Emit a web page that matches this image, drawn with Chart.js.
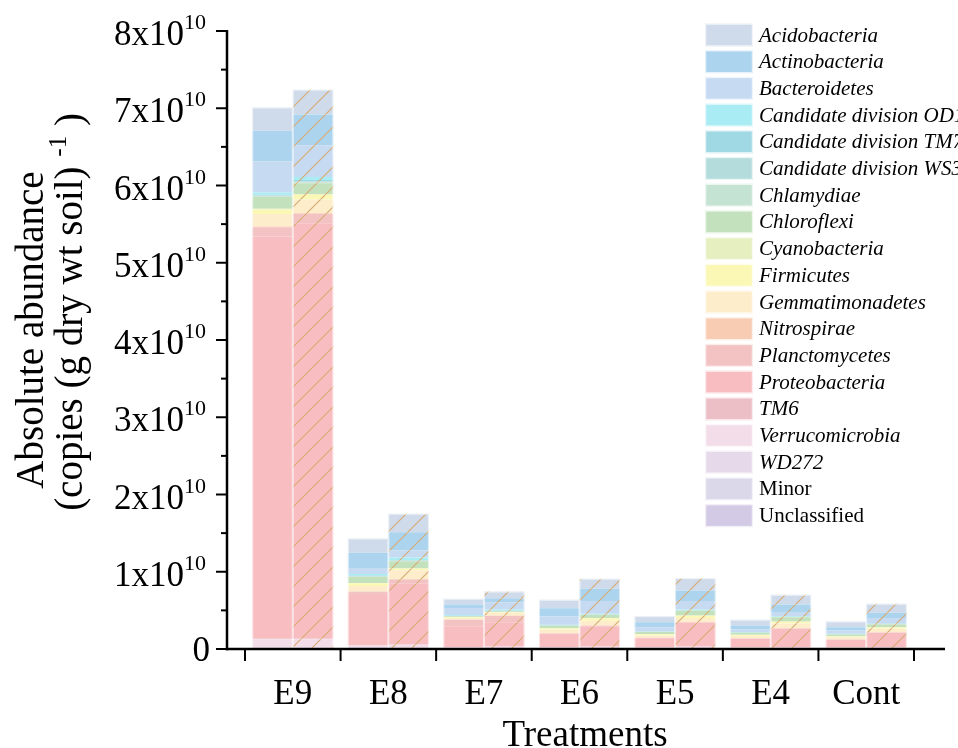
<!DOCTYPE html>
<html>
<head>
<meta charset="utf-8">
<script src="https://cdn.jsdelivr.net/npm/chart.js@4.4.1/dist/chart.umd.min.js"></script>
<style>
  html, body { margin: 0; padding: 0; background: #fff; }
  #wrap { width: 958px; height: 748px; }
</style>
</head>
<body>
<div id="wrap"><canvas id="chart" width="958" height="748"></canvas></div>
<script>
const treatments = ["E9", "E8", "E7", "E6", "E5", "E4", "Cont"];

// legend order = top of the stack first
const phyla = [
  "Acidobacteria", "Actinobacteria", "Bacteroidetes", "Candidate division OD1",
  "Candidate division TM7", "Candidate division WS3", "Chlamydiae", "Chloroflexi",
  "Cyanobacteria", "Firmicutes", "Gemmatimonadetes", "Nitrospirae", "Planctomycetes",
  "Proteobacteria", "TM6", "Verrucomicrobia", "WD272", "Minor", "Unclassified"
];
const plainNames = ["Minor", "Unclassified"];

const colors = [
  "#cfdbea", "#acd4ee", "#c6daf2", "#a9ecf4", "#a0d9e4", "#b4dcdc", "#c5e3d3",
  "#c3e1bd", "#e5efc0", "#fbf7b5", "#fdedcb", "#f8ccb3", "#f3c3c3", "#f8bdc1",
  "#ecbec6", "#f3dde9", "#e6d9ea", "#dbd8ea", "#d3cae5"
];

const yTicks = [0, 1, 2, 3, 4, 5, 6, 7, 8];

// values in 10^10 copies per g dry soil, same order as phyla
const E9_plain = [0.30, 0.40, 0.40, 0.03, 0.01, 0.01, 0.01, 0.15, 0.01, 0.06, 0.16, 0.01, 0.12, 5.205, 0.01, 0.11, 0.005, 0.005, 0.005];
const E9_hatch = [0.32, 0.40, 0.41, 0.04, 0.015, 0.015, 0.01, 0.14, 0.01, 0.06, 0.18, 0.01, 0.12, 5.375, 0.01, 0.11, 0.005, 0.005, 0.005];
const E8_plain = [0.185, 0.195, 0.08, 0.02, 0.005, 0.005, 0.005, 0.08, 0.005, 0.035, 0.07, 0.005, 0.04, 0.65, 0.005, 0.03, 0.005, 0.005, 0.005];
const E8_hatch = [0.24, 0.235, 0.09, 0.035, 0.005, 0.005, 0.005, 0.09, 0.005, 0.02, 0.115, 0.005, 0.05, 0.79, 0.005, 0.04, 0.005, 0.005, 0.005];
const E7_plain = [0.075, 0.045, 0.09, 0.011, 0.002, 0.002, 0.002, 0.01, 0.003, 0.01, 0.02, 0.005, 0.08, 0.272, 0.002, 0.012, 0.003, 0.003, 0.003];
const E7_hatch = [0.086, 0.053, 0.095, 0.014, 0.002, 0.002, 0.002, 0.01, 0.003, 0.005, 0.04, 0.005, 0.08, 0.315, 0.003, 0.02, 0.003, 0.003, 0.003];
const E6_plain = [0.109, 0.108, 0.107, 0.007, 0.002, 0.002, 0.002, 0.03, 0.005, 0.015, 0.045, 0.003, 0.004, 0.175, 0.002, 0.012, 0.003, 0.003, 0.003];
const E6_hatch = [0.129, 0.16, 0.164, 0.01, 0.002, 0.002, 0.002, 0.04, 0.005, 0.03, 0.06, 0.005, 0.005, 0.263, 0.003, 0.02, 0.003, 0.003, 0.003];
const E5_plain = [0.078, 0.064, 0.052, 0.005, 0.002, 0.002, 0.002, 0.025, 0.005, 0.015, 0.03, 0.002, 0.003, 0.117, 0.002, 0.012, 0.003, 0.003, 0.003];
const E5_hatch = [0.16, 0.137, 0.109, 0.011, 0.002, 0.002, 0.002, 0.06, 0.004, 0.03, 0.05, 0.003, 0.005, 0.31, 0.003, 0.02, 0.003, 0.003, 0.003];
const E4_plain = [0.074, 0.052, 0.032, 0.005, 0.002, 0.002, 0.002, 0.025, 0.005, 0.012, 0.03, 0.002, 0.005, 0.11, 0.002, 0.009, 0.003, 0.003, 0.003];
const E4_hatch = [0.125, 0.107, 0.044, 0.008, 0.002, 0.002, 0.002, 0.055, 0.006, 0.02, 0.06, 0.005, 0.005, 0.24, 0.002, 0.009, 0.003, 0.003, 0.003];
const Cont_plain = [0.073, 0.043, 0.043, 0.004, 0.002, 0.002, 0.002, 0.021, 0.003, 0.01, 0.03, 0.003, 0.005, 0.095, 0.002, 0.009, 0.003, 0.003, 0.003];
const Cont_hatch = [0.116, 0.069, 0.074, 0.002, 0.002, 0.002, 0.002, 0.035, 0.005, 0.015, 0.045, 0.004, 0.004, 0.19, 0.002, 0.009, 0.003, 0.003, 0.003];

const plainBars = [E9_plain, E8_plain, E7_plain, E6_plain, E5_plain, E4_plain, Cont_plain];
const hatchBars = [E9_hatch, E8_hatch, E7_hatch, E6_hatch, E5_hatch, E4_hatch, Cont_hatch];

const SERIF = '"Liberation Serif", "Times New Roman", serif';

const make_hatch = (color) => {
  const size = 20;
  const c = document.createElement("canvas");
  c.width = size;
  c.height = size;
  const g = c.getContext("2d");
  g.fillStyle = color;
  g.fillRect(0, 0, size, size);
  g.strokeStyle = "rgba(214,172,118,1)";
  g.lineWidth = 1.2;
  g.beginPath();
  g.moveTo(0, size); g.lineTo(size, 0);
  g.moveTo(-size / 2, size / 2); g.lineTo(size / 2, -size / 2);
  g.moveTo(size / 2, size * 1.5); g.lineTo(size * 1.5, size / 2);
  g.stroke();
  return g.createPattern(c, "repeat");
};

const get_datasets = () => {
  const out = [];
  // chart.js stacks the first dataset at the bottom, so walk the legend backwards
  for (let k = phyla.length - 1; k >= 0; k--) {
    out.push({
      label: phyla[k],
      data: plainBars.map((bar) => bar[k]),
      backgroundColor: colors[k],
      borderWidth: 0,
      stack: "plain",
    });
  }
  for (let k = phyla.length - 1; k >= 0; k--) {
    out.push({
      label: phyla[k],
      data: hatchBars.map((bar) => bar[k]),
      backgroundColor: make_hatch(colors[k]),
      borderWidth: 0,
      stack: "hatch",
    });
  }
  return out;
};

const draw_sup_label = (ctx, parts, x, y, align) => {
  let total = 0;
  parts.forEach((p) => {
    ctx.font = `${p.size}px ${SERIF}`;
    p.w = ctx.measureText(p.t).width;
    total += p.w;
  });
  let cx = align === "right" ? x - total : align === "center" ? x - total / 2 : x;
  parts.forEach((p) => {
    ctx.font = `${p.size}px ${SERIF}`;
    ctx.fillText(p.t, cx, y + (p.dy || 0));
    cx += p.w;
  });
};

const axesPlugin = {
  id: "axesPlugin",
  afterDatasetsDraw(chart) {
    // faint light outline round each whole bar, as in the original figure
    const { ctx } = chart;
    ctx.save();
    ctx.strokeStyle = "rgba(255,255,255,0.6)";
    ctx.lineWidth = 1;
    const metas = chart.getSortedVisibleDatasetMetas();
    treatments.forEach((t, i) => {
      ["plain", "hatch"].forEach((stack) => {
        const ms = metas.filter((m) => m.stack === stack);
        const bottom = ms[0].data[i];
        const top = ms[ms.length - 1].data[i];
        const w = bottom.width;
        ctx.strokeRect(bottom.x - w / 2 + 0.5, top.y + 0.5, w - 1, bottom.base - top.y - 1);
      });
    });
    ctx.restore();
  },
  afterDraw(chart) {
    const { ctx, chartArea } = chart;
    const xs = chart.scales.x;
    const ys = chart.scales.y;
    const axisX = chartArea.left - 18;
    const base = ys.getPixelForValue(0);
    ctx.save();
    ctx.strokeStyle = "#000";
    ctx.fillStyle = "#000";
    ctx.lineWidth = 2.5;
    ctx.lineCap = "butt";

    // y axis
    ctx.beginPath();
    ctx.moveTo(axisX, ys.getPixelForValue(8) - 1);
    ctx.lineTo(axisX, base + 1.2);
    ctx.stroke();
    ctx.lineWidth = 2;
    yTicks.forEach((v) => {
      const py = ys.getPixelForValue(v);
      ctx.beginPath();
      ctx.moveTo(axisX, py);
      ctx.lineTo(axisX - 11, py);
      ctx.stroke();
      if (v < 8) {
        const pm = ys.getPixelForValue(v + 0.5);
        ctx.beginPath();
        ctx.moveTo(axisX, pm);
        ctx.lineTo(axisX - 6, pm);
        ctx.stroke();
      }
      ctx.textBaseline = "alphabetic";
      if (v === 0) {
        draw_sup_label(ctx, [{ t: "0", size: 35 }], 210, py + 12, "right");
      } else {
        draw_sup_label(ctx, [{ t: `${v}x10`, size: 35 }, { t: "10", size: 22, dy: -16 }], 206, py + 14, "right");
      }
    });

    // x axis
    ctx.lineWidth = 2.5;
    ctx.beginPath();
    ctx.moveTo(axisX - 1.2, base);
    ctx.lineTo(chartArea.right + 31, base);
    ctx.stroke();
    ctx.lineWidth = 2;
    const step = xs.getPixelForValue(1) - xs.getPixelForValue(0);
    for (let i = 0; i <= treatments.length; i++) {
      const px = xs.getPixelForValue(0) + (i - 0.5) * step;
      ctx.beginPath();
      ctx.moveTo(px, base);
      ctx.lineTo(px, base + 12);
      ctx.stroke();
    }
    ctx.textAlign = "center";
    ctx.font = `35px ${SERIF}`;
    treatments.forEach((t, i) => {
      ctx.fillText(t, xs.getPixelForValue(i), 704);
    });
    ctx.font = `37px ${SERIF}`;
    ctx.fillText("Treatments", 585, 746);

    // y title
    ctx.save();
    ctx.translate(33, 330);
    ctx.rotate(-Math.PI / 2);
    ctx.textAlign = "center";
    ctx.textBaseline = "middle";
    ctx.font = `39px ${SERIF}`;
    ctx.fillText("Absolute abundance", 0, 0);
    ctx.restore();
    ctx.save();
    ctx.translate(72, 312);
    ctx.rotate(-Math.PI / 2);
    ctx.textAlign = "left";
    ctx.textBaseline = "middle";
    draw_sup_label(ctx, [
      { t: "(copies (g dry wt soil) ", size: 39 },
      { t: "-1", size: 25, dy: -13 },
      { t: " )", size: 39 },
    ], 0, 0, "center");
    ctx.restore();

    // legend
    ctx.textAlign = "left";
    ctx.textBaseline = "middle";
    phyla.forEach((name, i) => {
      const top = 23.5 + i * 26.7;
      ctx.fillStyle = colors[i];
      ctx.fillRect(705, top, 48, 23);
      ctx.strokeStyle = "rgba(255,255,255,0.7)";
      ctx.lineWidth = 1.5;
      ctx.strokeRect(705.5, top + 0.5, 47, 22);
      ctx.fillStyle = "#000";
      const italic = plainNames.includes(name) ? "" : "italic ";
      ctx.font = `${italic}21px ${SERIF}`;
      ctx.fillText(name, 759, top + 12.5);
    });
    ctx.restore();
  },
};

const config = {
  type: "bar",
  data: { labels: treatments, datasets: get_datasets() },
  options: {
    responsive: false,
    animation: false,
    devicePixelRatio: 1,
    layout: { padding: { left: 245, right: 44, top: 31, bottom: 99 } },
    datasets: { bar: { categoryPercentage: 0.848, barPercentage: 1 } },
    scales: {
      x: { display: false, stacked: true },
      y: { display: false, stacked: true, min: 0, max: 8 },
    },
    plugins: { legend: { display: false }, tooltip: { enabled: false } },
  },
  plugins: [axesPlugin],
};

new Chart(document.getElementById("chart"), config);
</script>
</body>
</html>
